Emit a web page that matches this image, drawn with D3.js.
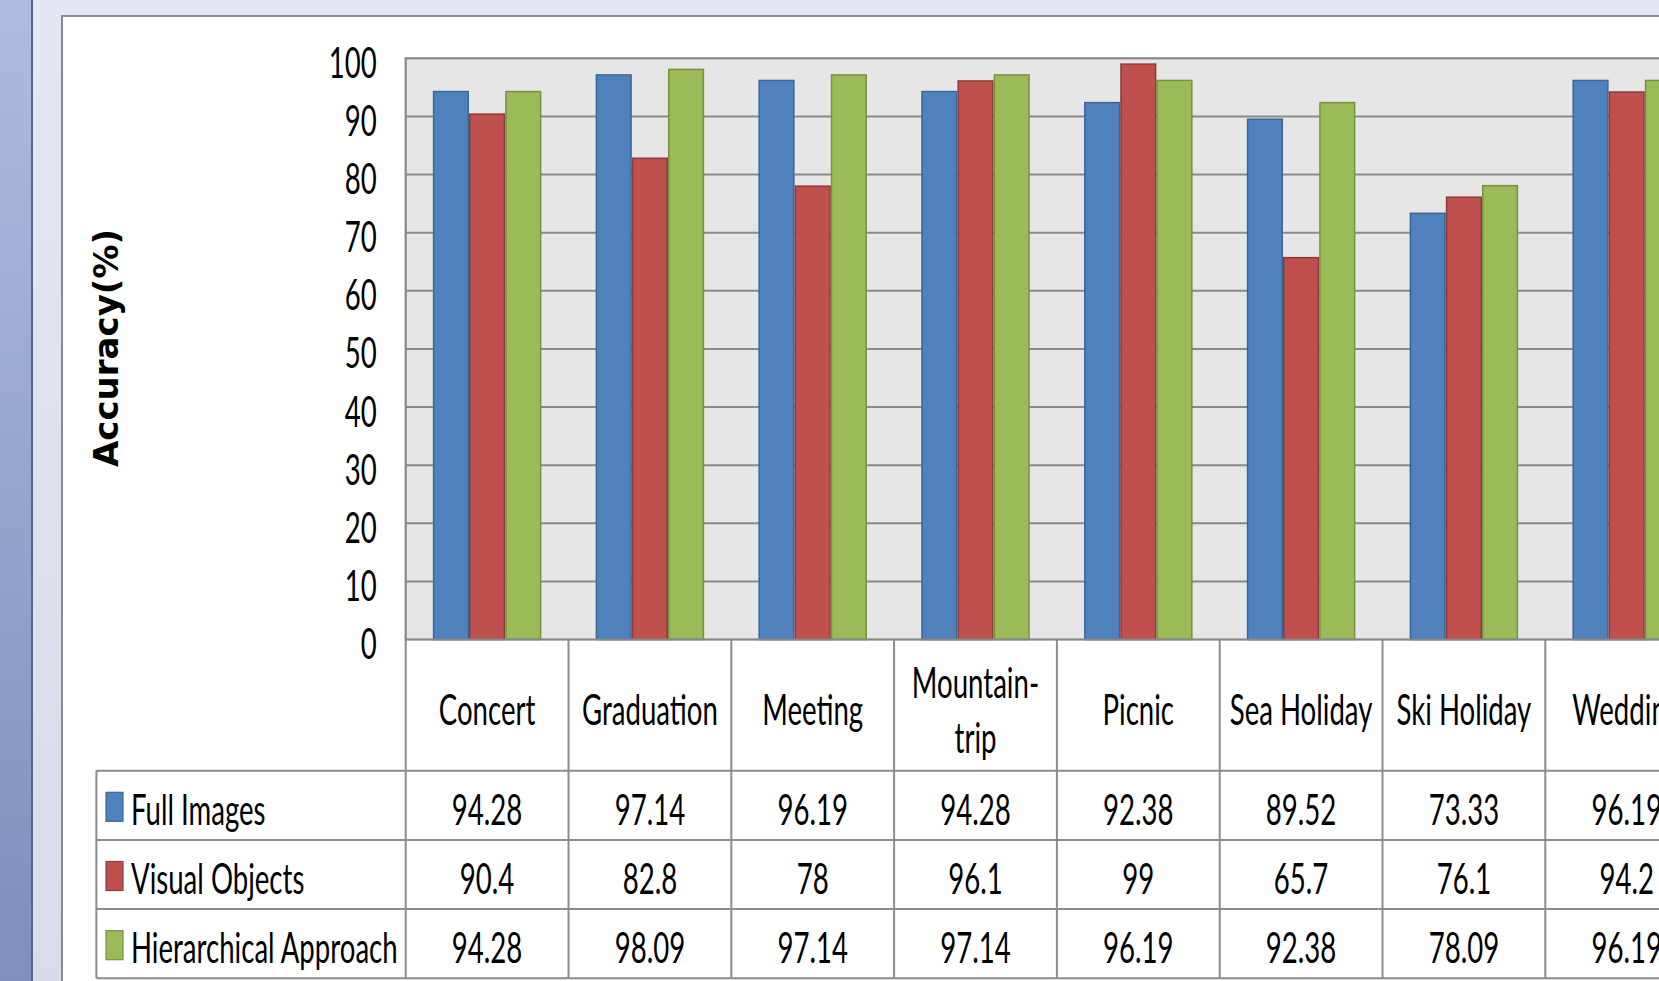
<!DOCTYPE html>
<html><head><meta charset="utf-8">
<script src="https://cdn.jsdelivr.net/npm/d3@7"></script>
<style>html,body{margin:0;padding:0;overflow:hidden;background:#fff}</style>
</head><body>
<svg id="chart" width="1659" height="981"></svg>
<script>
// ---- data ----
const categories = ["Concert","Graduation","Meeting","Mountain-trip","Picnic","Sea Holiday","Ski Holiday","Wedding"];
const seriesNames = ["Full Images","Visual Objects","Hierarchical Approach"];
const fullImages    = [94.28, 97.14, 96.19, 94.28, 92.38, 89.52, 73.33, 96.19];
const visualObjects = [90.4,  82.8,  78,    96.1,  99,    65.7,  76.1,  94.2];
const hierarchical  = [94.28, 98.09, 97.14, 97.14, 96.19, 92.38, 78.09, 96.19];
const yTicks = [0,10,20,30,40,50,60,70,80,90,100];
const yTitle = "Accuracy(%)";
const fills   = ["#4f81bd","#c0504d","#9bbb59"];
const strokes = ["#3b6699","#8e3b39","#77923f"];

const seriesValues = [fullImages, visualObjects, hierarchical];

// ---- layout ----
const W = 1659, H = 981;
const plotLeft = 405.7, plotTop = 58.3, plotBottom = 639.5, catStep = 162.8;
const rowTop = 770.7, rowH = 69.2, tableLeft = 96.4;
const SX = 0.92, SY = 1.4, FS = 30;

const svg = d3.select("#chart");
const defs = svg.append("defs");
const g1 = defs.append("linearGradient").attr("id","strip").attr("x1",0).attr("y1",0).attr("x2",0).attr("y2",1);
g1.append("stop").attr("offset","0").attr("stop-color","#aebcdf");
g1.append("stop").attr("offset","1").attr("stop-color","#7e8ebd");
const g2 = defs.append("linearGradient").attr("id","bgfade").attr("x1",0).attr("y1",0).attr("x2",0).attr("y2",1);
g2.append("stop").attr("offset","0").attr("stop-color","#e3e7f1");
g2.append("stop").attr("offset","1").attr("stop-color","#d8dce8");

// frame
svg.append("rect").attr("x",0).attr("y",0).attr("width",W).attr("height",H).attr("fill","url(#bgfade)");
svg.append("rect").attr("x",0).attr("y",0).attr("width",31).attr("height",H).attr("fill","url(#strip)");
svg.append("line").attr("x1",32).attr("x2",32).attr("y1",0).attr("y2",H).attr("stroke","#56678f").attr("stroke-width",2);
svg.append("rect").attr("x",62).attr("y",16).attr("width",W).attr("height",H).attr("fill","#fff")
  .attr("stroke","#8a8a8a").attr("stroke-width",2);

// scales
const x = d3.scaleBand().domain(categories).range([plotLeft, plotLeft + catStep*categories.length]).padding(0);
const xs = d3.scaleBand().domain(seriesNames).range([0, x.bandwidth()]).paddingInner(0).paddingOuter(0.75);
const y = d3.scaleLinear().domain([0,100]).range([plotBottom, plotTop]);

// plot area
const plotRight = x.range()[1];
svg.append("rect").attr("x",plotLeft).attr("y",plotTop).attr("width",plotRight-plotLeft).attr("height",plotBottom-plotTop)
  .attr("fill","#e6e6e6");
svg.append("g").selectAll("line").data(yTicks.filter(t => t>0 && t<100)).join("line")
  .attr("x1",plotLeft).attr("x2",plotRight).attr("y1",d=>y(d)).attr("y2",d=>y(d))
  .attr("stroke","#8a8a8a").attr("stroke-width",2);

// bars
const groups = svg.append("g").selectAll("g").data(categories).join("g")
  .attr("transform", d => `translate(${x(d)},0)`);
groups.selectAll("rect").data((c,i) => seriesNames.map((s,k) => ({s, k, v: seriesValues[k][i]}))).join("rect")
  .attr("x", d => xs(d.s) + 0.75).attr("width", xs.bandwidth() - 1.5)
  .attr("y", d => y(d.v)).attr("height", d => y(0) - y(d.v))
  .attr("fill", d => fills[d.k]).attr("stroke", d => strokes[d.k]).attr("stroke-width",1.5);

// plot border
svg.append("rect").attr("x",plotLeft).attr("y",plotTop).attr("width",plotRight-plotLeft).attr("height",plotBottom-plotTop)
  .attr("fill","none").attr("stroke","#888").attr("stroke-width",2.2);

// y axis labels
const yAxis = svg.append("g").attr("transform",`translate(${plotLeft},0)`)
  .call(d3.axisLeft(y).tickValues(yTicks).tickSize(0).tickPadding(0));
yAxis.select(".domain").remove();
yAxis.selectAll("text").attr("x",null).attr("dy",null)
  .attr("transform",`translate(-29,19) scale(${SX},${SY})`)
  .attr("font-family","Lato, 'Open Sans', sans-serif").attr("font-size",FS).attr("fill","#000")
  .attr("text-anchor","end");

// y title
svg.append("text").attr("transform","translate(118,348) rotate(-90)")
  .attr("text-anchor","middle").attr("font-family","'DejaVu Sans', Verdana, sans-serif")
  .attr("font-weight","bold").attr("font-size",34).attr("fill","#000").text(yTitle);

// table grid
const tableRight = W + 10;
const tg = svg.append("g").attr("stroke","#8c8c8c").attr("stroke-width",2);
d3.range(seriesNames.length + 1).forEach(r => {
  tg.append("line").attr("x1",tableLeft).attr("x2",tableRight).attr("y1",rowTop + r*rowH).attr("y2",rowTop + r*rowH);
});
tg.append("line").attr("x1",tableLeft).attr("x2",tableLeft).attr("y1",rowTop).attr("y2",rowTop + 3*rowH);
categories.forEach(c => {
  tg.append("line").attr("x1",x(c)).attr("x2",x(c)).attr("y1",plotBottom).attr("y2",rowTop + 3*rowH);
});
tg.append("line").attr("x1",plotRight).attr("x2",plotRight).attr("y1",plotBottom).attr("y2",rowTop + 3*rowH);

function ctext(parent, tx, ty, str, anchor) {
  return parent.append("text").attr("transform",`translate(${tx},${ty}) scale(${SX},${SY})`)
    .attr("text-anchor",anchor).attr("font-family","Lato, 'Open Sans', sans-serif")
    .attr("font-size",FS).attr("fill","#000").text(str);
}

// category header
const hdr = svg.append("g");
const hdrMid = (plotBottom + rowTop)/2;
categories.forEach(c => {
  const cx = x(c) + x.bandwidth()/2;
  const lines = c.includes("-") ? [c.slice(0, c.indexOf("-")+1), c.slice(c.indexOf("-")+1)] : [c];
  const lh = 55;
  lines.forEach((ln, i) => {
    const base = hdrMid + 20 + (i - (lines.length-1)/2) * lh;
    ctext(hdr, cx, base, ln, "middle");
  });
});

// data rows
const body = svg.append("g");
seriesNames.forEach((s, k) => {
  const mid = rowTop + k*rowH + rowH/2;
  body.append("rect").attr("x",106).attr("y",mid - 13).attr("width",17).attr("height",29)
    .attr("fill",fills[k]).attr("stroke",strokes[k]).attr("stroke-width",1.2);
  ctext(body, 131, mid + 19.5, s, "start");
  categories.forEach((c, i) => {
    ctext(body, x(c) + x.bandwidth()/2, mid + 19.5, String(seriesValues[k][i]), "middle");
  });
});
</script>
</body></html>
